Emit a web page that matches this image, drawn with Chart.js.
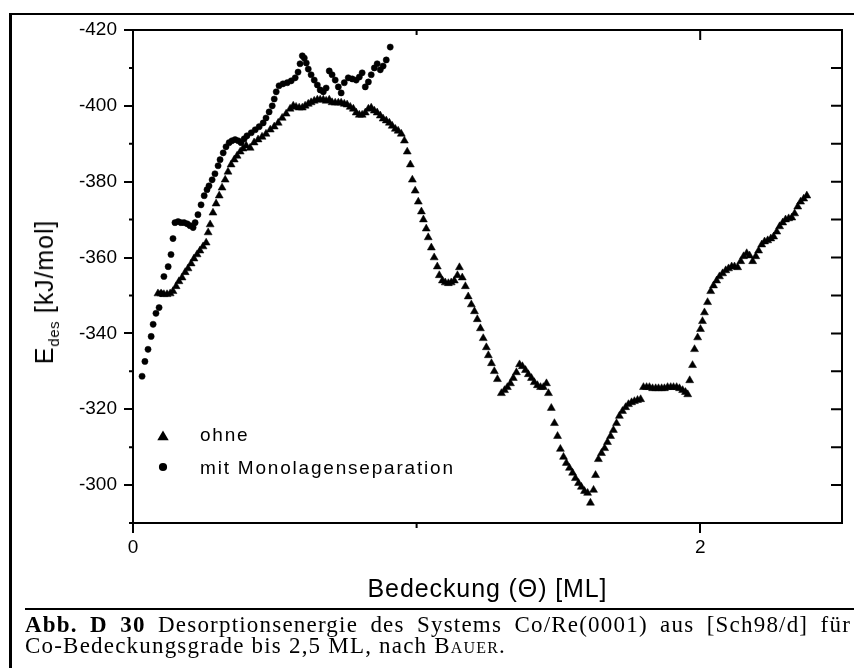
<!DOCTYPE html>
<html>
<head>
<meta charset="utf-8">
<script src="https://cdn.jsdelivr.net/npm/chart.js@4.4.0/dist/chart.umd.min.js"></script>
<style>
  body { margin: 0; background: #fff; width: 854px; height: 668px; overflow: hidden; position: relative;
         font-family: 'Liberation Sans', Arial, sans-serif; color: #000; }
  #frame { position: absolute; left: 9px; top: 13px; width: 900px; height: 700px;
           border-left: 3px solid #000; border-top: 2px solid #000; }
  #wrap { position: absolute; left: 0; top: 0; width: 854px; height: 600px; }
  .legend { position: absolute; left: 200px; font-size: 19px; line-height: 22px; letter-spacing: 1.8px; white-space: nowrap; }
  #xtitle { position: absolute; left: 133px; width: 709px; top: 573px; text-align: center;
            font-size: 25px; line-height: 30px; letter-spacing: 0.9px; white-space: nowrap; }
  #ytitle { position: absolute; left: 44px; top: 292px; transform: translate(-50%, -50%) rotate(-90deg);
            font-size: 25px; line-height: 30px; letter-spacing: 0.9px; white-space: nowrap; }
  #ytitle sub { font-size: 15px; vertical-align: -6px; line-height: 0; letter-spacing: 0.5px; }
  #sep { position: absolute; left: 25px; top: 608px; width: 840px; height: 2px; background: #000; }
  .cap { position: absolute; left: 25px; width: 826px; font-family: 'Liberation Serif', 'Times New Roman', serif;
         font-size: 23px; line-height: 23px; letter-spacing: 1.2px; white-space: nowrap; }
  #cap1 { top: 613px; text-align: justify; text-align-last: justify; white-space: normal; }
  #cap2 { top: 634px; }
  .sc { font-variant: small-caps; }
</style>
</head>
<body>
<div id="frame"></div>
<div id="wrap"><canvas id="chart"></canvas></div>
<div class="legend" style="top:424px">ohne</div>
<div class="legend" style="top:457px">mit Monolagenseparation</div>
<div id="xtitle">Bedeckung (&Theta;) [ML]</div>
<div id="ytitle">E<sub>des</sub> [kJ/mol]</div>
<div id="sep"></div>
<div class="cap" id="cap1"><b>Abb. D 30</b> Desorptionsenergie des Systems Co/Re(0001) aus [Sch98/d] für</div>
<div class="cap" id="cap2">Co-Bedeckungsgrade bis 2,5 ML, nach <span class="sc">Bauer</span>.</div>
<script>
// Bedeckung (ML) und Desorptionsenergie (kJ/mol), Serie "ohne"
const xOhne = [
  0.088,0.099,0.109,0.120,0.131,0.141,0.152,0.162,0.173,0.184,
  0.194,0.205,0.215,0.226,0.236,0.247,0.258,0.265,0.272,0.282,
  0.293,0.304,0.314,0.325,0.335,0.346,0.357,0.367,0.378,0.388,
  0.399,0.413,0.427,0.441,0.455,0.469,0.484,0.498,0.512,0.526,
  0.540,0.554,0.565,0.575,0.586,0.597,0.607,0.618,0.628,0.639,
  0.650,0.660,0.671,0.681,0.692,0.702,0.713,0.724,0.734,0.745,
  0.755,0.766,0.777,0.787,0.798,0.808,0.819,0.830,0.840,0.851,
  0.861,0.872,0.882,0.893,0.904,0.914,0.925,0.935,0.946,0.957,
  0.967,0.978,0.985,0.995,1.006,1.017,1.024,1.034,1.041,1.052,
  1.062,1.073,1.080,1.091,1.101,1.112,1.122,1.133,1.144,1.151,
  1.161,1.172,1.182,1.193,1.204,1.214,1.225,1.235,1.246,1.253,
  1.264,1.274,1.285,1.299,1.310,1.320,1.331,1.341,1.352,1.363,
  1.373,1.384,1.394,1.405,1.415,1.426,1.437,1.447,1.458,1.465,
  1.475,1.486,1.497,1.507,1.518,1.528,1.539,1.550,1.560,1.571,
  1.581,1.592,1.603,1.613,1.624,1.631,1.641,1.652,1.663,1.673,
  1.684,1.694,1.705,1.715,1.726,1.737,1.747,1.758,1.768,1.779,
  1.790,1.800,1.811,1.821,1.832,1.843,1.853,1.864,1.874,1.885,
  1.896,1.906,1.917,1.927,1.938,1.948,1.956,1.963,1.973,1.980,
  1.991,2.001,2.008,2.015,2.026,2.037,2.047,2.058,2.068,2.079,
  2.090,2.100,2.111,2.121,2.132,2.143,2.153,2.164,2.174,2.185,
  2.196,2.206,2.217,2.227,2.238,2.249,2.259,2.270,2.280,2.291,
  2.301,2.312,2.323,2.333,2.344,2.354,2.365,2.376
];
const yOhne = [
  -350.5,-350.5,-350.3,-350.3,-350.5,-351.1,-352.4,-353.7,-354.7,-356.1,
  -357.1,-358.4,-359.7,-360.8,-361.8,-362.9,-363.9,-366.6,-368.7,-371.8,
  -374.2,-376.3,-378.4,-380.5,-382.6,-384.5,-385.8,-386.8,-387.9,-388.7,
  -389.5,-388.9,-390.3,-391.1,-391.8,-392.6,-393.7,-394.5,-395.5,-396.8,
  -397.9,-399.2,-400.0,-399.7,-399.5,-399.5,-400.0,-400.5,-400.9,-401.3,
  -401.6,-401.6,-401.6,-401.3,-401.6,-400.9,-400.8,-400.8,-400.8,-400.5,
  -400.3,-399.7,-399.2,-398.2,-397.6,-397.6,-398.2,-399.2,-399.5,-398.7,
  -398.2,-397.4,-396.6,-396.1,-395.5,-394.7,-393.9,-393.4,-392.6,-390.8,
  -387.9,-384.5,-380.5,-377.6,-374.7,-372.1,-370.0,-367.6,-365.3,-362.6,
  -360.0,-357.6,-355.3,-353.9,-353.4,-353.2,-353.4,-353.9,-355.3,-357.4,
  -354.7,-352.4,-349.7,-347.6,-345.8,-343.7,-341.3,-338.7,-336.3,-334.2,
  -332.1,-330.0,-327.9,-324.2,-325.0,-325.8,-326.8,-328.2,-329.7,-331.8,
  -331.3,-330.3,-329.2,-328.2,-327.1,-326.3,-325.8,-325.8,-326.8,-324.2,
  -320.3,-316.3,-312.9,-309.5,-307.4,-305.8,-304.5,-303.2,-301.8,-300.5,
  -299.5,-298.4,-297.9,-295.3,-298.7,-302.6,-306.8,-308.4,-309.7,-311.3,
  -312.9,-314.5,-316.3,-318.2,-319.5,-320.5,-321.3,-321.8,-322.1,-322.4,
  -322.6,-325.8,-325.8,-325.8,-325.5,-325.5,-325.5,-325.5,-325.5,-325.8,
  -325.8,-325.8,-325.8,-325.5,-325.0,-324.5,-323.9,-327.6,-331.6,-335.8,
  -338.9,-341.1,-343.2,-345.5,-348.2,-351.1,-352.6,-353.9,-355.0,-355.8,
  -356.6,-357.1,-357.6,-357.6,-357.4,-359.0,-360.3,-361.1,-360.5,-359.0,
  -360.3,-361.8,-363.4,-364.2,-364.5,-365.0,-365.5,-366.8,-368.2,-369.2,
  -370.0,-370.3,-370.5,-371.6,-373.4,-374.7,-375.5,-376.3
];

// Serie "mit Monolagenseparation"
const xMit = [
  0.032,0.042,0.053,0.064,0.071,0.081,0.092,0.099,0.109,0.124,
  0.134,0.141,0.148,0.159,0.169,0.180,0.191,0.201,0.212,0.219,
  0.229,0.240,0.251,0.261,0.268,0.279,0.289,0.300,0.307,0.318,
  0.328,0.339,0.349,0.360,0.371,0.381,0.392,0.402,0.417,0.431,
  0.445,0.459,0.469,0.480,0.491,0.498,0.505,0.515,0.529,0.544,
  0.558,0.572,0.582,0.589,0.597,0.604,0.611,0.618,0.628,0.639,
  0.650,0.660,0.671,0.681,0.692,0.702,0.713,0.724,0.734,0.745,
  0.759,0.773,0.787,0.798,0.808,0.819,0.830,0.840,0.851,0.861,
  0.872,0.882,0.893,0.907
];
const yMit = [
  -328.7,-332.6,-335.8,-339.2,-342.4,-345.3,-346.8,-350.5,-355.0,-357.6,
  -360.8,-365.0,-369.2,-369.5,-369.2,-369.2,-368.9,-368.4,-367.9,-369.2,
  -371.3,-373.9,-376.3,-377.9,-378.9,-380.5,-382.1,-384.2,-385.8,-387.6,
  -389.2,-390.3,-390.8,-391.1,-390.8,-390.3,-391.3,-392.1,-392.9,-393.7,
  -394.5,-395.5,-396.8,-398.4,-400.0,-401.8,-403.7,-405.3,-405.8,-406.1,
  -406.6,-407.4,-408.9,-411.1,-413.2,-412.6,-411.3,-409.7,-408.2,-406.8,
  -405.5,-404.2,-403.7,-404.7,-409.2,-408.2,-406.8,-405.0,-403.4,-406.1,
  -407.4,-407.1,-406.8,-407.6,-408.7,-405.0,-406.3,-408.2,-410.0,-411.1,
  -409.5,-410.5,-412.1,-415.5
];

function toPoints(xs, ys) {
  return xs.map((x, i) => ({ x: x, y: ys[i] }));
}

// Rahmen oben/rechts, Nebenstriche und Legendensymbole
const framePlugin = {
  id: 'frame',
  afterDraw(chart) {
    const ctx = chart.ctx;
    const a = chart.chartArea;
    const x = chart.scales.x;
    const y = chart.scales.y;
    ctx.save();
    ctx.strokeStyle = '#000';
    ctx.lineWidth = 2;
    ctx.strokeRect(a.left, a.top, a.right - a.left, a.bottom - a.top);
    ctx.beginPath();
    y.ticks.forEach(t => {
      const p = y.getPixelForValue(t.value);
      ctx.moveTo(a.right, p); ctx.lineTo(a.right - 11, p);
      if (t.value % 20 !== 0) { ctx.moveTo(a.left, p); ctx.lineTo(a.left - 4, p); }
    });
    x.ticks.forEach(t => {
      const p = x.getPixelForValue(t.value);
      const len = t.value % 2 === 0 ? 10 : 5;
      ctx.moveTo(p, a.top); ctx.lineTo(p, a.top + len);
      if (t.value % 2 !== 0) { ctx.moveTo(p, a.bottom); ctx.lineTo(p, a.bottom + 5); }
    });
    ctx.stroke();
    ctx.fillStyle = '#000';
    Chart.helpers.drawPoint(ctx, { pointStyle: 'triangle', radius: 4.6, borderWidth: 0.5 }, 163, 437);
    ctx.fill();
    Chart.helpers.drawPoint(ctx, { pointStyle: 'circle', radius: 3.1, borderWidth: 0.5 }, 163, 467);
    ctx.fill();
    ctx.restore();
  }
};

const tickFont = { family: "'Liberation Sans', Arial, sans-serif", size: 19 };

new Chart(document.getElementById('chart'), {
  type: 'scatter',
  data: {
    datasets: [{
      label: 'ohne',
      data: toPoints(xOhne, yOhne),
      pointStyle: 'triangle',
      pointRadius: 4.6,
      pointBorderWidth: 0.5,
      pointBackgroundColor: '#000',
      pointBorderColor: '#000'
    }, {
      label: 'mit Monolagenseparation',
      data: toPoints(xMit, yMit),
      pointStyle: 'circle',
      pointRadius: 3.1,
      pointBorderWidth: 0.5,
      pointBackgroundColor: '#000',
      pointBorderColor: '#000'
    }]
  },
  options: {
    responsive: true,
    maintainAspectRatio: false,
    animation: false,
    events: [],
    layout: { padding: { top: 30, right: 12, left: 0, bottom: 0 } },
    plugins: { legend: { display: false }, tooltip: { enabled: false } },
    scales: {
      x: {
        type: 'linear',
        min: 0,
        max: 2.5,
        ticks: {
          stepSize: 1,
          includeBounds: false,
          padding: 3,
          color: '#000',
          font: tickFont,
          callback: v => (v % 2 === 0 ? String(v) : '')
        },
        grid: {
          drawOnChartArea: false,
          tickLength: 10,
          lineWidth: 2,
          tickColor: c => (c.tick && c.tick.value % 2 === 0 ? '#000' : 'rgba(0,0,0,0)')
        },
        border: { color: '#000', width: 2 },
        afterFit: s => { s.height = 77; }
      },
      y: {
        type: 'linear',
        reverse: true,
        min: -420,
        max: -290,
        ticks: {
          stepSize: 10,
          includeBounds: false,
          padding: 7,
          color: '#000',
          font: tickFont,
          callback: v => (v % 20 === 0 ? String(v) : '')
        },
        grid: {
          drawOnChartArea: false,
          tickLength: 9,
          lineWidth: 2,
          tickColor: c => (c.tick && c.tick.value % 20 === 0 ? '#000' : 'rgba(0,0,0,0)')
        },
        border: { color: '#000', width: 2 },
        afterFit: s => { s.width = 133; }
      }
    }
  },
  plugins: [framePlugin]
});
</script>
</body>
</html>
